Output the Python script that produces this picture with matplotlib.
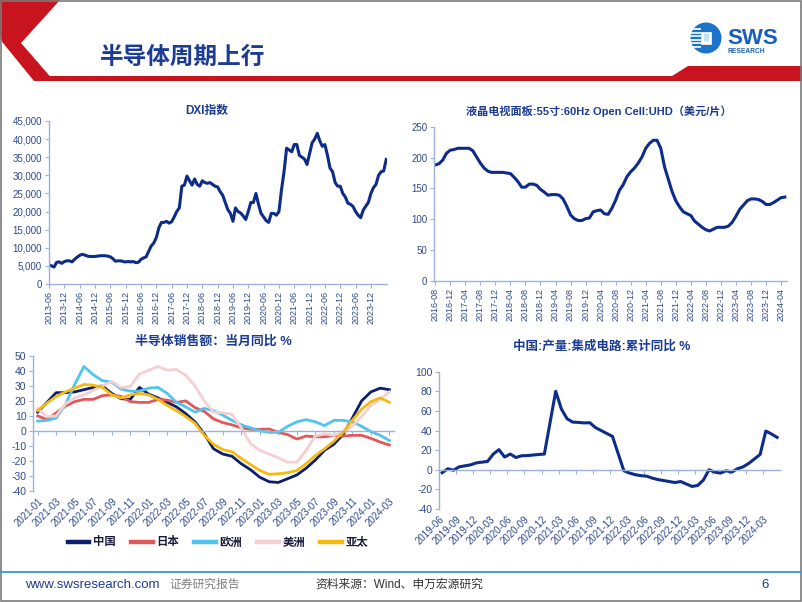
import matplotlib
matplotlib.use("Agg")
import matplotlib.pyplot as plt
from matplotlib.patches import Polygon, Rectangle, Circle
from matplotlib.lines import Line2D
from matplotlib.ticker import StrMethodFormatter

plt.rcParams['font.family'] = ['Liberation Sans', 'Noto Sans CJK SC']
plt.rcParams['axes.unicode_minus'] = False

# ---------------- data ----------------
dxi_start = '2013-06'
dxi_values = [
    5300, 5000, 4700, 6000, 6100, 5700, 6200, 6400, 6400, 6100,
    6800, 7400, 7900, 8200, 8000, 7700, 7600, 7600, 7600, 7700,
    7800, 7800, 7800, 7700, 7500, 7000, 6300, 6400, 6400, 6200,
    6100, 6200, 6100, 6200, 5900, 6000, 6800, 7200, 7500, 9000,
    10500, 11300, 12800, 15500, 17000, 17000, 17300, 16800, 17200, 18500,
    20000, 21000, 27000, 27300, 29800, 28500, 27300, 29000, 27500, 27000,
    28500, 28000, 27800, 28000, 27500, 27000, 26800, 25500, 24500, 22500,
    20500, 19500, 17300, 21000, 20000, 19600, 18800, 17800, 20000, 22500,
    22500, 25000, 22000, 19500, 18500, 17500, 17000, 19500, 19500, 19000,
    20000, 26000, 31000, 37500, 37000, 36500, 38500, 38500, 35500, 35000,
    34500, 33000, 36000, 39000, 40000, 41600, 39500, 38000, 38500, 35500,
    32000, 31000, 28000, 27000, 27000, 25000, 24000, 22300, 22000, 21400,
    20000, 19000, 18300, 20400, 21500, 22500, 25000, 26600, 27500, 30000,
    31000, 31200, 34400]
dxi_ticks = ['2013-06', '2013-12', '2014-06', '2014-12', '2015-06', '2015-12',
             '2016-06', '2016-12', '2017-06', '2017-12', '2018-06', '2018-12',
             '2019-06', '2019-12', '2020-06', '2020-12', '2021-06', '2021-12',
             '2022-06', '2022-12', '2023-06', '2023-12']

lcd_start = '2016-08'
lcd_values = [
    188, 190, 196, 207, 212, 213, 215, 215, 215, 215,
    211, 201, 191, 183, 178, 176, 176, 176, 176, 175,
    174, 168, 161, 152, 152, 157, 157, 155, 148.5, 144,
    139, 140, 140, 139, 133, 121, 107, 101, 98, 98,
    101, 102, 112, 114, 115, 109, 108, 118, 131, 147,
    156, 169, 177, 183, 191, 201, 215, 223, 228, 228,
    215, 185, 165, 145, 130, 120, 112, 109, 106, 97,
    92, 87, 83, 81, 84, 87, 87, 87, 89, 95,
    105, 116, 123, 130, 133, 133, 132, 129, 124, 124,
    127, 131, 135, 136]
lcd_ticks = ['2016-08', '2016-12', '2017-04', '2017-08', '2017-12', '2018-04',
             '2018-08', '2018-12', '2019-04', '2019-08', '2019-12', '2020-04',
             '2020-08', '2020-12', '2021-04', '2021-08', '2021-12', '2022-04',
             '2022-08', '2022-12', '2023-04', '2023-08', '2023-12', '2024-04']

sales_start = '2021-01'
sales_china = [12.5, 19, 25.5, 25.5, 26, 27.5, 29, 30, 25, 21.5, 21, 29, 24.5,
               22, 19, 16, 11.5, 6, -2, -12, -15.5, -17, -22, -26, -31, -34,
               -34.5, -32, -29.5, -25, -19.5, -13, -9, -2.5, 8.5, 20, 26, 28.5, 27.5]
sales_japan = [10, 7.5, 12, 16.5, 19.5, 21, 21, 23.5, 24, 23, 19.5, 19, 19,
               21, 20.5, 19, 20, 15.5, 13, 8, 5.5, 4, 2, 1, 1, 1.2, -1, -2.5,
               -5.5, -3.5, -4, -4, -3, -3.5, -3, -3, -5, -7.5, -9.5]
sales_europe = [6.5, 7, 8.5, 17.5, 31, 43, 37.5, 33.5, 32.5, 28, 26.5, 26.5,
                28.5, 29, 25, 19, 16, 12.5, 15, 13.5, 10.5, 7, 4, 2, 0, -1, -1,
                3, 6, 7.5, 6, 3.5, 7, 7, 6, 3, -0.5, -3, -6.5]
sales_america = [15, 9.5, 10, 18, 22, 24, 27, 30, 33, 29, 29.5, 38, 40.5, 43,
                 40.5, 41, 37, 30, 20, 12.5, 12, 11, 2, -8.5, -13, -15.5, -18,
                 -21, -21, -13, -3.5, -2, -3, -1, 3, 9.5, 17, 21, 26]
sales_apac = [13.5, 18.5, 23, 26, 28.5, 31, 30.5, 29, 24, 22, 24, 25, 24, 21,
              17, 13.5, 9.5, 5, -3, -9, -12.5, -14, -18.5, -22.5, -26.5, -29,
              -28.7, -28, -26.5, -22, -16.5, -12, -7, -1, 7, 14.5, 19.5, 22, 19]
sales_names = ['中国', '日本', '欧洲', '美洲', '亚太']
sales_colors = ['#0B1F6E', '#E0585A', '#4FC4EE', '#F5CFD1', '#F7B90F']
sales_ticks = ['2021-01', '2021-03', '2021-05', '2021-07', '2021-09', '2021-11',
               '2022-01', '2022-03', '2022-05', '2022-07', '2022-09', '2022-11',
               '2023-01', '2023-03', '2023-05', '2023-07', '2023-09', '2023-11',
               '2024-01', '2024-03']

ic_start = '2019-06'
ic_months = ['2019-06', '2019-07', '2019-08', '2019-09', '2019-10', '2019-11', '2019-12',
             '2020-02', '2020-03', '2020-04', '2020-05', '2020-06', '2020-07', '2020-08',
             '2020-09', '2020-10', '2020-11', '2020-12',
             '2021-02', '2021-03', '2021-04', '2021-05', '2021-06', '2021-07', '2021-08',
             '2021-09', '2021-10', '2021-11', '2021-12',
             '2022-02', '2022-03', '2022-04', '2022-05', '2022-06', '2022-07', '2022-08',
             '2022-09', '2022-10', '2022-11', '2022-12',
             '2023-02', '2023-03', '2023-04', '2023-05', '2023-06', '2023-07', '2023-08',
             '2023-09', '2023-10', '2023-11', '2023-12',
             '2024-02', '2024-03', '2024-04', '2024-05']
ic_values = [-3, 1, -0.5, 3, 4, 5, 7,
             8.5, 16, 20.5, 13, 16, 12.5, 14.3, 14.5, 15, 15.6, 16,
             80, 62, 52, 48.6, 48.3, 47.8, 48, 43, 40, 37, 34,
             -1, -3.3, -5, -6, -6.5, -8.5, -10, -11, -12, -13, -12,
             -17, -16, -10.5, 0, -2.4, -3.4, -1, -2.4, 1, 3, 6.5,
             15.6, 39.5, 36.5, 33]
ic_ticks = ['2019-06', '2019-09', '2019-12', '2020-03', '2020-06', '2020-09',
            '2020-12', '2021-03', '2021-06', '2021-09', '2021-12', '2022-03',
            '2022-06', '2022-09', '2022-12', '2023-03', '2023-06', '2023-09',
            '2023-12', '2024-03']


def midx(label, origin):
    y, m = map(int, label.split('-'))
    oy, om = map(int, origin.split('-'))
    return (y - oy) * 12 + (m - om)


# ---------------- figure ----------------
W, H = 802, 602
fig = plt.figure(figsize=(W / 100, H / 100), dpi=100)
fig.patch.set_facecolor('white')


def rect(x0, y0, x1, y1):
    return [x0 / W, 1 - y1 / H, (x1 - x0) / W, (y1 - y0) / H]


bg = fig.add_axes([0, 0, 1, 1], zorder=0)
bg.set_xlim(0, W)
bg.set_ylim(H, 0)
bg.axis('off')

RED = '#C8141E'
TITLE_BLUE = '#1C3C94'
NAVY = '#0D2C8A'
SPINE = '#9DB1D9'
TICKC = '#2E4A8C'

# header decorations
bg.add_patch(Polygon([(0, 0), (60, 0), (21, 43), (54, 81), (34, 81), (3, 43), (0, 38)],
                     closed=True, color=RED, lw=0))
bg.add_patch(Polygon([(34, 76), (672, 76), (688, 66), (802, 66), (802, 81), (34, 81)],
                     closed=True, color=RED, lw=0))
bg.text(100, 57, '半导体周期上行', fontsize=17, fontweight='bold', color=TITLE_BLUE,
        va='center', ha='left', family=['Noto Sans CJK SC'])

# logo
bg.add_patch(Circle((706, 38), 15.5, color='#1B74C9', lw=0))
for yy in [29, 32.5, 36, 39.5, 43, 46.5]:
    bg.plot([690, 701], [yy, yy], color='white', lw=1.2, solid_capstyle='butt')
bg.add_patch(Rectangle((701, 31.5), 10, 12, facecolor='white', edgecolor='white', lw=0.5))
bg.add_patch(Rectangle((703.5, 34), 5, 7, facecolor='#BFE3F7', lw=0))
bg.text(727, 38.5, 'SWS', fontsize=16, fontweight='bold', color='#1560BD',
        va='center', ha='left', family=['Liberation Sans'])
bg.text(728, 51.5, 'RESEARCH', fontsize=4.8, fontweight='bold', color='#1560BD',
        va='center', ha='left', family=['Liberation Sans'])

# footer
bg.plot([0, W], [572, 572], color='#3D9AD6', lw=1.3)
bg.text(25, 585, 'www.swsresearch.com', fontsize=9.5, color='#1F3C88',
        va='center', ha='left')
bg.text(169, 585, '证券研究报告', fontsize=8.5, color='#808080', va='center', ha='left')
bg.text(315, 585, '资料来源：Wind、申万宏源研究', fontsize=8.5, color='#333333',
        va='center', ha='left')
bg.text(765, 585, '6', fontsize=9.5, color='#1F3C88', va='center', ha='center')
bg.add_patch(Rectangle((0.5, 0.5), W - 1.5, H - 1.5, fill=False, edgecolor='#7A7A7A', lw=1.2))

# chart titles
bg.text(207, 111, 'DXI指数', fontsize=8.5, fontweight='bold', color=TITLE_BLUE,
        ha='center', va='center')
bg.text(599, 111, '液晶电视面板:55寸:60Hz Open Cell:UHD（美元/片）', fontsize=8,
        fontweight='bold', color=TITLE_BLUE, ha='center', va='center')
bg.text(213, 342, '半导体销售额：当月同比 %', fontsize=9.3, fontweight='bold',
        color=TITLE_BLUE, ha='center', va='center')
bg.text(602, 347, '中国:产量:集成电路:累计同比 %', fontsize=9, fontweight='bold',
        color=TITLE_BLUE, ha='center', va='center')


def style(ax):
    for s in ['top', 'right']:
        ax.spines[s].set_visible(False)
    for s in ['left', 'bottom']:
        ax.spines[s].set_color(SPINE)
        ax.spines[s].set_linewidth(1.0)
    ax.tick_params(color=SPINE, labelcolor=TICKC, length=3, width=0.8, pad=2)
    ax.set_facecolor('none')


# ---- chart 1: DXI ----
ax1 = fig.add_axes(rect(49, 121, 387, 284), zorder=1)
style(ax1)
ax1.plot(range(len(dxi_values)), dxi_values, color=NAVY, lw=2.2, solid_joinstyle='round')
ax1.set_xlim(0, len(dxi_values) - 0.7)
ax1.set_ylim(0, 45000)
ax1.set_yticks(range(0, 45001, 5000))
ax1.yaxis.set_major_formatter(StrMethodFormatter('{x:,.0f}'))
ax1.set_xticks([midx(t, dxi_start) for t in dxi_ticks], dxi_ticks, rotation=90)
ax1.tick_params(axis='x', labelsize=6.5)
ax1.tick_params(axis='y', labelsize=7)

# ---- chart 2: LCD panel ----
ax2 = fig.add_axes(rect(434.3, 126.7, 786.7, 281), zorder=1)
style(ax2)
ax2.plot(range(len(lcd_values)), lcd_values, color=NAVY, lw=2.2, solid_joinstyle='round')
ax2.set_xlim(-0.25, len(lcd_values) - 0.5)
ax2.set_ylim(0, 250)
ax2.set_yticks(range(0, 251, 50))
ax2.set_xticks([midx(t, lcd_start) for t in lcd_ticks], lcd_ticks, rotation=90)
ax2.tick_params(axis='x', labelsize=6.5)
ax2.tick_params(axis='y', labelsize=7)


def zero_axis(ax, positions, labels):
    ax.spines['bottom'].set_position(('data', 0))
    ax.tick_params(axis='x', labelbottom=False, direction='out', length=3)
    ax.set_xticks(positions)
    sec = ax.secondary_xaxis(0)
    sec.set_xticks(positions, labels=labels)
    sec.tick_params(length=0, labelsize=7, labelcolor=TICKC, pad=4)
    sec.spines['bottom'].set_visible(False)
    for lab in sec.get_xticklabels():
        lab.set_rotation(45)
        lab.set_ha('right')
        lab.set_rotation_mode('anchor')
    return sec


# ---- chart 3: semiconductor sales ----
ax3 = fig.add_axes(rect(33.3, 356, 394, 490.7), zorder=1)
style(ax3)
for name, vals, col in zip(sales_names,
                           [sales_china, sales_japan, sales_europe, sales_america, sales_apac],
                           sales_colors):
    ax3.plot(range(len(vals)), vals, color=col, lw=2.0, label=name,
             solid_joinstyle='round')
ax3.set_xlim(-0.47, len(sales_china) - 0.5)
ax3.set_ylim(-40, 50)
ax3.set_yticks(range(-40, 51, 10))
ax3.tick_params(axis='y', labelsize=7.5)
zero_axis(ax3, [midx(t, sales_start) for t in sales_ticks], sales_ticks)
legend_handles = [Line2D([], [], color=c, lw=3.2) for c in sales_colors]
fig.legend(handles=legend_handles, labels=sales_names, loc='center',
           bbox_to_anchor=(218 / W, 1 - 542 / H), ncol=5, frameon=False,
           prop={'weight': 'bold', 'size': 8.2}, handlelength=1.9,
           columnspacing=1.35, handletextpad=0.3, labelcolor='#1A1A3A')

# ---- chart 4: IC output ----
ax4 = fig.add_axes(rect(439.3, 371.7, 780, 509), zorder=1)
style(ax4)
ax4.plot([midx(m, ic_start) + 0.5 for m in ic_months], ic_values, color=NAVY, lw=2.2,
         solid_joinstyle='round')
ax4.set_xlim(0, 60)
ax4.set_ylim(-40, 100)
ax4.set_yticks(range(-40, 101, 20))
ax4.tick_params(axis='y', labelsize=7.5)
zero_axis(ax4, [midx(t, ic_start) for t in ic_ticks], ic_ticks)

fig.savefig('out.png', dpi=100)
